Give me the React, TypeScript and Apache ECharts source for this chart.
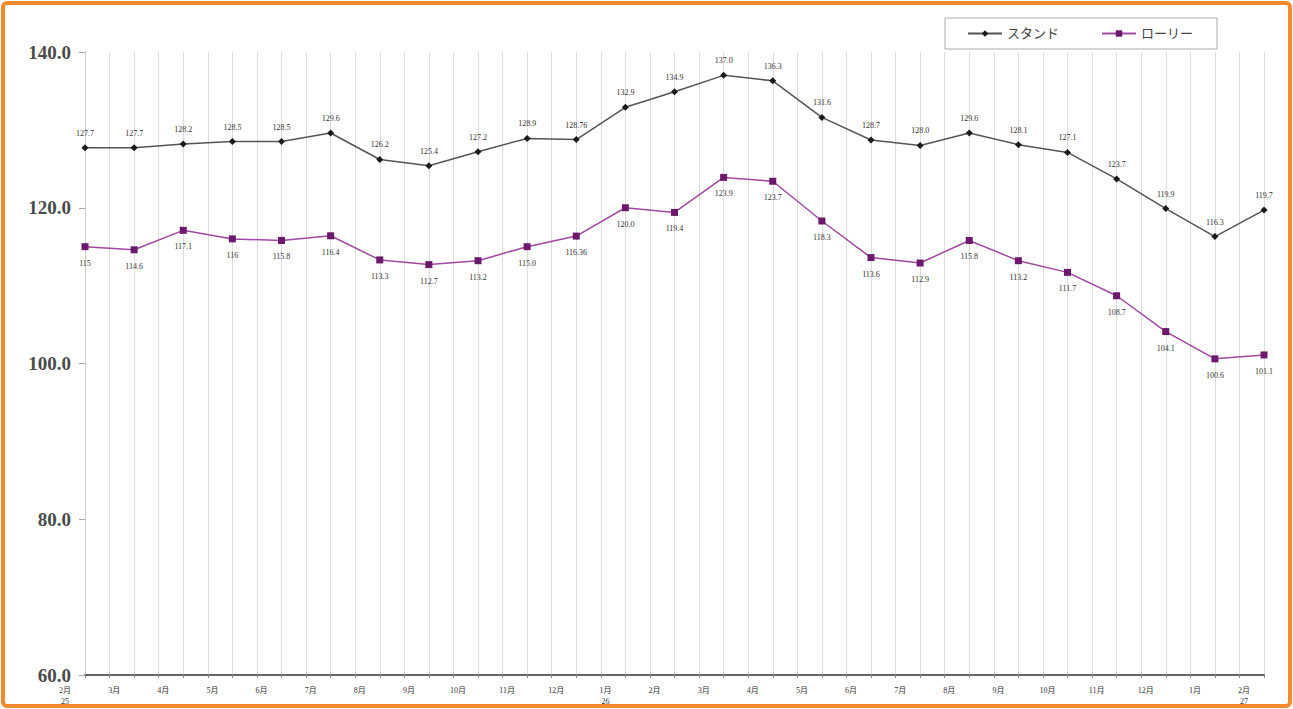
import React, { useEffect, useRef } from "react";
import * as echarts from "echarts";

const months = ["2月","3月","4月","5月","6月","7月","8月","9月","10月","11月","12月","1月","2月","3月","4月","5月","6月","7月","8月","9月","10月","11月","12月","1月","2月"];
const years = ["25","","","","","","","","","","","26","","","","","","","","","","","","","27"];
const standValues = [127.7,127.7,128.2,128.5,128.5,129.6,126.2,125.4,127.2,128.9,128.76,132.9,134.9,137.0,136.3,131.6,128.7,128.0,129.6,128.1,127.1,123.7,119.9,116.3,119.7];
const lorryValues = [115,114.6,117.1,116,115.8,116.4,113.3,112.7,113.2,115.0,116.36,120.0,119.4,123.9,123.4,118.3,113.6,112.9,115.8,113.2,111.7,108.7,104.1,100.6,101.1];
const standLabels = ["127.7","127.7","128.2","128.5","128.5","129.6","126.2","125.4","127.2","128.9","128.76","132.9","134.9","137.0","136.3","131.6","128.7","128.0","129.6","128.1","127.1","123.7","119.9","116.3","119.7"];
const lorryLabels = ["115","114.6","117.1","116","115.8","116.4","113.3","112.7","113.2","115.0","116.36","120.0","119.4","123.9","123.7","118.3","113.6","112.9","115.8","113.2","111.7","108.7","104.1","100.6","101.1"];
const yTicks = [60, 80, 100, 120, 140];

const SERIF = "'Liberation Serif', 'DejaVu Serif', 'Noto Sans CJK JP', serif";

export default function App() {
  const ref = useRef<HTMLDivElement>(null);
  useEffect(() => {
    if (!ref.current) return;
    const chart = echarts.init(ref.current, null, { renderer: "svg" });
    chart.setOption({
      animation: false,
      backgroundColor: "#ffffff",
      graphic: [
        {
          type: "rect",
          shape: { x: 3, y: 3, width: 1287, height: 703, r: 4 },
          style: { fill: "none", stroke: "#F28B2C", lineWidth: 4 },
          silent: true,
          z: 100,
        },
      ],
      legend: {
        left: 945,
        top: 18,
        backgroundColor: "#ffffff",
        borderColor: "#aaaaaa",
        borderWidth: 1,
        padding: [9, 24, 9, 22],
        itemGap: 42,
        itemWidth: 34,
        itemHeight: 8,
        textStyle: { fontFamily: SERIF, fontSize: 13, color: "#444" },
        data: ["スタンド", "ローリー"],
      },
      grid: { left: 85, right: 23, top: 52, bottom: 34 },
      xAxis: {
        type: "value",
        min: 0,
        max: 24,
        interval: 0.5,
        axisLine: { show: true, lineStyle: { color: "#666", width: 2 } },
        axisTick: { show: true, length: 3, lineStyle: { color: "#888" } },
        splitLine: { show: true, lineStyle: { color: "#dddddd", width: 1 } },
        axisLabel: {
          show: true,
          margin: 10,
          fontSize: 8,
          lineHeight: 11,
          color: "#333",
          fontFamily: SERIF,
          padding: [0, 40, 0, 0],
          showMinLabel: true,
          showMaxLabel: true,
          formatter: (v: number) => {
            if (!Number.isInteger(v)) return "";
            const y = years[v];
            return months[v] + (y ? "\n" + y : "");
          },
        },
      },
      yAxis: {
        type: "value",
        min: 60,
        max: 140,
        interval: 20,
        axisLine: { show: true, lineStyle: { color: "#cccccc", width: 1 } },
        axisTick: { show: true, length: 6, lineStyle: { color: "#aaaaaa" } },
        splitLine: { show: false },
        axisLabel: {
          margin: 14,
          fontSize: 19,
          fontWeight: "bold",
          color: "#4a4a4a",
          fontFamily: SERIF,
          formatter: (v: number) => (yTicks.includes(v) ? v.toFixed(1) : ""),
        },
      },
      series: [
        {
          name: "スタンド",
          type: "line",
          data: standValues.map((v, i) => [i, v]),
          symbol: "diamond",
          symbolSize: 7,
          lineStyle: { color: "#555555", width: 1.5 },
          itemStyle: { color: "#1a1a1a" },
          label: {
            show: true,
            position: "top",
            distance: 7,
            fontSize: 8,
            color: "#333",
            fontFamily: SERIF,
            formatter: (p: any) => standLabels[p.dataIndex],
          },
        },
        {
          name: "ローリー",
          type: "line",
          data: lorryValues.map((v, i) => [i, v]),
          symbol: "rect",
          symbolSize: 7,
          lineStyle: { color: "#a148a1", width: 1.5 },
          itemStyle: { color: "#6b1a6b" },
          label: {
            show: true,
            position: "bottom",
            distance: 9,
            fontSize: 8,
            color: "#333",
            fontFamily: SERIF,
            formatter: (p: any) => lorryLabels[p.dataIndex],
          },
        },
      ],
    });
    return () => chart.dispose();
  }, []);
  return (
    <div style={{ position: "fixed", left: 0, top: 0, width: 1293, height: 709 }}>
      <div ref={ref} style={{ width: 1293, height: 709 }} />
    </div>
  );
}
